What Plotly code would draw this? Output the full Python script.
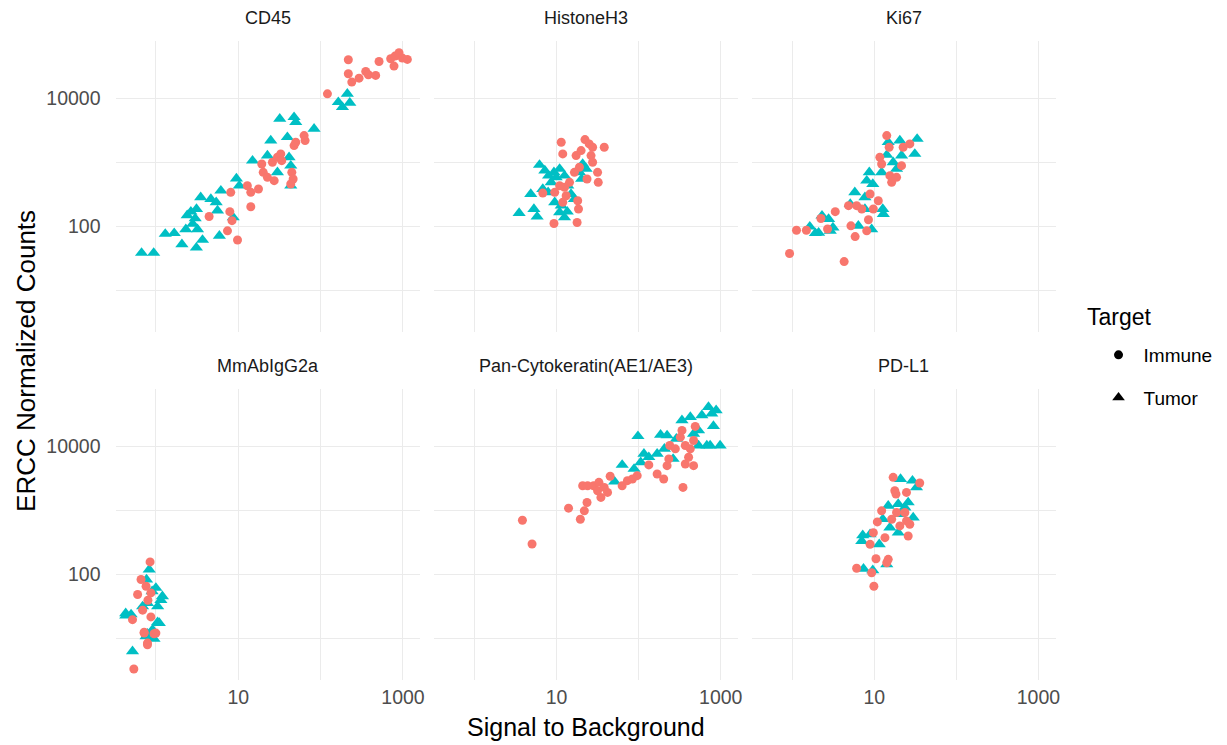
import plotly.graph_objects as go

# ---------------- data (Signal to Background, ERCC Normalized Counts) ----------------
panels = ["CD45", "HistoneH3", "Ki67", "MmAbIgG2a", "Pan-Cytokeratin(AE1/AE3)", "PD-L1"]

cd45_tumor_x = [0.67, 0.94, 1.30, 1.67, 2.07, 2.31, 2.66, 3.11, 3.0, 3.2, 3.1, 3.68, 3.5, 4.65, 5.4, 5.6, 6.15, 5.9, 8.7, 10.3, 14.9, 22.6, 24.8, 29.9, 31.9, 47.6, 49.9, 39.5, 41.4, 43.4, 43.4, 83.3, 164, 184, 211, 226, 2.4, 2.8, 9.5]
cd45_tumor_y = [39, 39, 77, 79, 53, 91, 171, 188, 134, 91, 47, 62, 286, 269, 239, 178, 363, 72, 139, 434, 1066, 1277, 2188, 701, 4766, 5058, 4228, 2466, 1202, 891, 434, 3327, 8670, 7244, 11690, 8460, 150, 110, 560]
cd45_immune_x = [4.43, 7.4, 9.8, 7.9, 8.4, 8.1, 14.2, 12.9, 14.2, 17.6, 19.3, 20.1, 22.6, 27.3, 26, 29.9, 32.8, 33.7, 44.7, 46.4, 43.4, 47.6, 49.9, 63, 64.8, 121, 217, 217, 239, 293, 353, 380, 466, 512, 709, 800, 895, 982, 1130, 778]
cd45_immune_y = [144, 86, 62, 171, 124, 342, 204, 434, 342, 385, 946, 701, 586, 520, 1005, 1202, 1355, 1066, 701, 552, 461, 1828, 2061, 2618, 2188, 11690, 39600, 24000, 17800, 20500, 26060, 23120, 22600, 37300, 41100, 45200, 50900, 42100, 40100, 31600]

histone_tumor_x = [3.5, 4.85, 5.3, 5.8, 6.2, 7.2, 8.0, 8.6, 9.3, 9.9, 10.9, 11.4, 12.5, 10.9, 12.5, 13.7, 15, 16.5, 7.9, 6.8, 19, 20.8, 22.9, 20.2, 9.5, 13.5]
histone_tumor_y = [163, 322, 188, 143, 912, 745, 622, 490, 701, 586, 167, 212, 139, 791, 622, 434, 322, 269, 342, 385, 701, 946, 791, 552, 239, 171]
histone_immune_x = [11.4, 11.9, 17.3, 22.2, 25, 27.5, 38.1, 19.9, 26.3, 27.5, 31.6, 32.2, 23.5, 19, 16.5, 14.4, 12.5, 10.9, 9.5, 6.8, 11.9, 18.1, 18.5, 17.8, 9.3, 13.1]
histone_immune_y = [2061, 1355, 1277, 2265, 1940, 1722, 1722, 1528, 1277, 1005, 701, 490, 552, 840, 701, 490, 409, 434, 342, 333, 239, 253, 188, 116, 112, 303]

ki67_tumor_x = [1.64, 1.92, 2.1, 2.31, 2.78, 2.91, 3.14, 5.1, 5.8, 6.4, 7.7, 8.1, 8.7, 9.6, 9.3, 12.7, 12.9, 12.3, 14.2, 14.8, 17.0, 18.7, 20.5, 21.5, 31.2, 33.3, 7.7]
ki67_tumor_y = [100, 79, 80, 148, 131, 86, 97, 225, 342, 103, 286, 520, 701, 461, 91, 188, 157, 701, 1306, 2061, 1005, 791, 2188, 1277, 1355, 2322, 188]
ki67_immune_x = [0.93, 1.13, 1.49, 2.24, 2.7, 3.35, 4.3, 4.86, 5.2, 5.85, 7.05, 8.1, 8.5, 8.9, 11.2, 11.7, 12.3, 14.2, 15.2, 15.5, 16.3, 18.7, 21.5, 22.5, 27.1, 9.75, 6.1]
ki67_immune_y = [38.2, 88, 88, 134, 92, 171, 28.6, 212, 103, 70, 188, 86, 128, 322, 253, 1202, 946, 2618, 1722, 622, 490, 586, 891, 1722, 1940, 188, 212]

mmab_tumor_x = [0.83, 0.77, 1.0, 1.2, 0.5, 0.69, 0.79, 1.1, 0.91, 0.76, 1.05, 0.43, 0.43, 1.05, 0.79, 0.95, 0.52, 0.9, 1.15]
mmab_tumor_y = [120, 84, 62, 46, 24, 32, 36, 17.6, 13.9, 10.9, 32, 25, 23, 18.2, 12, 10, 6.4, 55, 40]
mmab_immune_x = [0.85, 0.76, 0.6, 0.52, 0.69, 0.87, 0.72, 1.0, 0.79, 0.87, 0.66, 0.72, 0.95, 0.79, 0.54, 0.8]
mmab_immune_y = [158, 66, 49, 19.9, 28, 22, 12.3, 12.3, 8.6, 52, 84, 12.7, 12, 8.1, 3.4, 40]

panck_tumor_x = [51, 63, 88, 98, 106, 116, 133, 168, 185, 222, 206, 263, 288, 337, 426, 467, 537, 589, 709, 778, 815, 879, 743, 982, 677, 537]
panck_tumor_y = [2800, 5105, 4415, 14330, 5620, 7590, 6730, 7590, 15030, 14690, 9080, 6340, 13030, 25230, 28440, 15600, 10240, 30200, 40700, 32060, 20550, 36100, 10240, 10240, 10240, 17580]
panck_immune_x = [3.84, 5.03, 14, 19.5, 21.8, 23.5, 20.8, 23.9, 28.3, 31.6, 32.8, 34.7, 38.1, 41.8, 45, 63, 73, 84, 96, 133, 168, 202, 222, 239, 233, 280, 322, 337, 370, 347, 370, 406, 467, 426, 489, 467]
panck_immune_y = [703, 300, 1084, 729, 984, 1330, 2421, 2421, 2421, 2021, 2735, 1592, 2280, 1905, 3396, 2421, 2904, 3083, 3475, 5105, 3690, 3083, 4977, 10240, 6340, 9080, 13830, 17580, 10240, 2280, 5280, 6730, 4977, 9080, 20300, 12270]

pdl1_tumor_x = [20.9, 29.2, 32.7, 25.9, 19.6, 14.8, 12.7, 20.5, 29.8, 19.6, 15.5, 7.24, 7.05, 8.9, 11.5, 7.4, 9.6, 14.2, 23.6]
pdl1_tumor_y = [3083, 2904, 2280, 1330, 1254, 1180, 729, 873, 775, 451, 540, 409, 334, 425, 296, 123, 117, 144, 1110]
pdl1_immune_x = [17.0, 35.8, 17.8, 18.4, 24.7, 12.3, 16.3, 23.6, 24.7, 27.1, 25.9, 13.5, 10.9, 9.75, 8.9, 10.5, 14.8, 14.2, 6.1, 9.3, 9.9, 20.5, 18.7]
pdl1_immune_y = [3273, 2667, 2021, 1795, 1905, 984, 729, 927, 687, 610, 400, 377, 662, 451, 296, 177, 173, 153, 126, 107, 66, 574, 927]

x_tickvals = [10, 1000]
x_ticktext = ["10", "1000"]
x_minorvals = [1, 100]
y_tickvals = [100, 10000]
y_ticktext = ["100", "10000"]
y_minorvals = [10, 1000]

panel_data = [
    (cd45_tumor_x, cd45_tumor_y, cd45_immune_x, cd45_immune_y),
    (histone_tumor_x, histone_tumor_y, histone_immune_x, histone_immune_y),
    (ki67_tumor_x, ki67_tumor_y, ki67_immune_x, ki67_immune_y),
    (mmab_tumor_x, mmab_tumor_y, mmab_immune_x, mmab_immune_y),
    (panck_tumor_x, panck_tumor_y, panck_immune_x, panck_immune_y),
    (pdl1_tumor_x, pdl1_tumor_y, pdl1_immune_x, pdl1_immune_y),
]

# ---------------- styling ----------------
W, H = 1227, 745
RED = "#F8766D"
TEAL = "#00BFC4"
GRID = "#EBEBEB"
FONT = "Liberation Sans, Arial, sans-serif"
TICK = 19.5
STRIP = 18
LEG = 19
BIG = 25

x_dom_px = [(116, 422), (436, 741), (755, 1060)]
y_dom_px = [(41, 332), (389, 680)]

fig = go.Figure()
layout = dict(
    width=W, height=H,
    margin=dict(l=0, r=0, t=0, b=0),
    paper_bgcolor="white", plot_bgcolor="white",
    font=dict(family=FONT, color="#4D4D4D"),
    showlegend=True,
)

annotations = []
for i, name in enumerate(panels):
    row, col = divmod(i, 3)
    n = i + 1
    xs = "" if n == 1 else str(n)
    tx, ty, ix, iy = panel_data[i]
    fig.add_trace(go.Scatter(
        x=tx, y=ty, mode="markers", xaxis="x" + xs, yaxis="y" + xs,
        marker=dict(symbol="triangle-up", size=11.5, color=TEAL, line=dict(width=0)),
        showlegend=False, hoverinfo="skip"))
    fig.add_trace(go.Scatter(
        x=ix, y=iy, mode="markers", xaxis="x" + xs, yaxis="y" + xs,
        marker=dict(symbol="circle", size=9, color=RED, line=dict(width=0)),
        showlegend=False, hoverinfo="skip"))

    x0, x1 = x_dom_px[col]
    y0, y1 = y_dom_px[row]
    layout["xaxis" + xs] = dict(
        domain=[x0 / W, x1 / W], anchor="y" + xs, type="log",
        range=[-0.49, 3.21],
        tickmode="array", tickvals=x_tickvals, ticktext=x_ticktext,
        showticklabels=(row == 1), ticks="",
        tickfont=dict(size=TICK, color="#4D4D4D", family=FONT),
        showgrid=True, gridcolor=GRID, gridwidth=1.4,
        minor=dict(tickmode="array", tickvals=x_minorvals, showgrid=True,
                   gridcolor=GRID, gridwidth=1.0, ticks=""),
        zeroline=False, showline=False, ticklabelstandoff=3,
    )
    layout["yaxis" + xs] = dict(
        domain=[1 - y1 / H, 1 - y0 / H], anchor="x" + xs, type="log",
        range=[0.36, 4.89],
        tickmode="array", tickvals=y_tickvals, ticktext=y_ticktext,
        showticklabels=(col == 0), ticks="",
        tickfont=dict(size=TICK, color="#4D4D4D", family=FONT),
        showgrid=True, gridcolor=GRID, gridwidth=1.4,
        minor=dict(tickmode="array", tickvals=y_minorvals, showgrid=True,
                   gridcolor=GRID, gridwidth=1.0, ticks=""),
        zeroline=False, showline=False, ticklabelstandoff=14,
    )
    annotations.append(dict(
        text=name, x=(x0 + x1) / 2 / W, y=1 - (y0 - 23) / H,
        xref="paper", yref="paper", xanchor="center", yanchor="middle",
        showarrow=False, font=dict(size=STRIP, color="#1A1A1A", family=FONT)))

# legend entries (shape only, black)
fig.add_trace(go.Scatter(x=[None], y=[None], mode="markers", name="Immune",
                         legendgroup="Immune",
                         marker=dict(symbol="circle", size=9, color="black")))
fig.add_trace(go.Scatter(x=[None], y=[None], mode="markers", name="Tumor",
                         legendgroup="Tumor",
                         marker=dict(symbol="triangle-up", size=11, color="black")))

annotations.append(dict(
    text="Signal to Background", x=588 / W, y=1 - 743 / H,
    xref="paper", yref="paper", xanchor="center", yanchor="bottom",
    showarrow=False, font=dict(size=BIG, color="black", family=FONT)))
annotations.append(dict(
    text="ERCC Normalized Counts", x=26 / W, y=1 - 361 / H, textangle=-90,
    xref="paper", yref="paper", xanchor="center", yanchor="middle",
    showarrow=False, font=dict(size=BIG + 1, color="black", family=FONT)))
annotations.append(dict(
    text="Target", x=1089 / W, y=1 - 317 / H,
    xref="paper", yref="paper", xanchor="left", yanchor="middle",
    showarrow=False, font=dict(size=23, color="black", family=FONT)))

layout["annotations"] = annotations
layout["legend"] = dict(
    x=1098 / W, y=1 - 336 / H, xanchor="left", yanchor="top",
    font=dict(size=LEG, color="black", family=FONT),
    traceorder="grouped", tracegroupgap=15, itemwidth=40,
    bgcolor="rgba(0,0,0,0)",
)
fig.update_layout(**layout)
fig.write_html("out.html", config={"displayModeBar": False},
               post_script="document.body.style.margin='0px';")
